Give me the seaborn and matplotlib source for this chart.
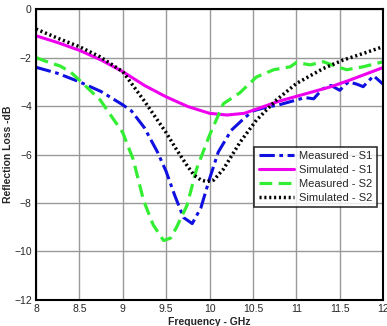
import matplotlib
matplotlib.use("Agg")
import matplotlib.pyplot as plt
import seaborn as sns

# Datos (GHz, dB)
f_meas_s1 = [8.0, 8.25, 8.5, 8.75, 9.0, 9.1, 9.25, 9.4, 9.5, 9.6, 9.7, 9.8, 9.9, 10.0, 10.1,
             10.25, 10.4, 10.5, 10.65, 10.8, 11.0, 11.1, 11.2, 11.3, 11.4, 11.5, 11.6, 11.7,
             11.77, 11.89, 12.0]
rl_meas_s1 = [-2.4, -2.65, -3.0, -3.4, -3.95, -4.2, -4.9, -5.9, -6.7, -7.7, -8.6, -8.85, -8.2,
              -7.0, -5.9, -5.0, -4.5, -4.2, -4.05, -3.95, -3.75, -3.65, -3.7, -3.3, -3.15, -3.35,
              -3.0, -3.1, -3.2, -2.75, -3.1]

f_sim_s1 = [8.0, 8.25, 8.5, 8.75, 9.0, 9.25, 9.5, 9.75, 10.0, 10.2, 10.4, 10.6, 10.8, 11.0,
            11.2, 11.4, 11.6, 11.8, 12.0]
rl_sim_s1 = [-1.1, -1.38, -1.7, -2.1, -2.58, -3.15, -3.62, -4.02, -4.3, -4.37, -4.3, -4.05,
             -3.8, -3.6, -3.4, -3.2, -2.95, -2.68, -2.41]

f_meas_s2 = [8.0, 8.15, 8.28, 8.4, 8.5, 8.74, 9.0, 9.12, 9.24, 9.35, 9.47, 9.55, 9.62, 9.74,
             9.85, 10.0, 10.16, 10.35, 10.54, 10.74, 10.93, 11.0, 11.16, 11.31, 11.47, 11.58,
             11.77, 12.0]
rl_meas_s2 = [-2.0, -2.2, -2.35, -2.6, -2.93, -3.75, -5.1, -6.2, -7.9, -8.9, -9.55, -9.45, -9.0,
              -8.1, -6.6, -5.2, -3.9, -3.45, -2.8, -2.5, -2.38, -2.2, -2.3, -2.17, -2.38, -2.5,
              -2.38, -2.17]

f_sim_s2 = [8.0, 8.25, 8.5, 8.74, 9.0, 9.24, 9.5, 9.62, 9.73, 9.82, 9.9, 9.97, 10.05, 10.16,
            10.35, 10.54, 10.77, 11.0, 11.31, 11.54, 11.77, 12.0]
rl_sim_s2 = [-0.82, -1.2, -1.55, -1.97, -2.58, -3.75, -5.1, -5.8, -6.4, -6.85, -7.05, -7.12,
             -7.05, -6.6, -5.5, -4.58, -3.75, -3.07, -2.45, -2.1, -1.83, -1.55]

sns.set_style("white")
plt.rcParams["font.family"] = ["Liberation Sans", "DejaVu Sans"]

fig = plt.figure(figsize=(3.87, 3.26), dpi=100)
ax = fig.add_axes([0.093, 0.08, 0.897, 0.892])

sns.lineplot(x=f_meas_s1, y=rl_meas_s1, ax=ax, color="#1010e0", lw=2.2,
             linestyle=(0, (5, 1.5, 1.2, 1.5)), label="Measured - S1")
sns.lineplot(x=f_sim_s1, y=rl_sim_s1, ax=ax, color="#ee00ee", lw=2.2,
             label="Simulated - S1")
sns.lineplot(x=f_meas_s2, y=rl_meas_s2, ax=ax, color="#33ee33", lw=2.3,
             linestyle=(0, (4, 2)), label="Measured - S2")
sns.lineplot(x=f_sim_s2, y=rl_sim_s2, ax=ax, color="black", lw=2.5,
             linestyle=(0, (0.6, 0.8)), label="Simulated - S2")

ax.set_xlim(8, 12)
ax.set_ylim(-12, 0)
ax.set_xticks([8, 8.5, 9, 9.5, 10, 10.5, 11, 11.5, 12])
ax.set_xticklabels(["8", "8.5", "9", "9.5", "10", "10.5", "11", "11.5", "12"])
ax.set_yticks([0, -2, -4, -6, -8, -10, -12])
ax.grid(True, color="#999999", lw=1.0)
ax.tick_params(direction="in", length=3, labelsize=7.5, pad=3, color="black")
for s in ax.spines.values():
    s.set_color("black")
    s.set_linewidth(1.5)

ax.set_xlabel("Frequency - GHz", fontsize=7.5, fontweight="bold", labelpad=2)
ax.set_ylabel("Reflection Loss -dB", fontsize=7.5, fontweight="bold", labelpad=1)

leg = ax.legend(loc="lower right", bbox_to_anchor=(0.997, 0.3), fontsize=8,
                frameon=True, fancybox=False, handlelength=3.2, borderpad=0.4,
                labelspacing=0.35, handletextpad=0.4)
leg.get_frame().set_edgecolor("black")
leg.get_frame().set_linewidth(1.2)

fig.savefig("out.png", dpi=100)
